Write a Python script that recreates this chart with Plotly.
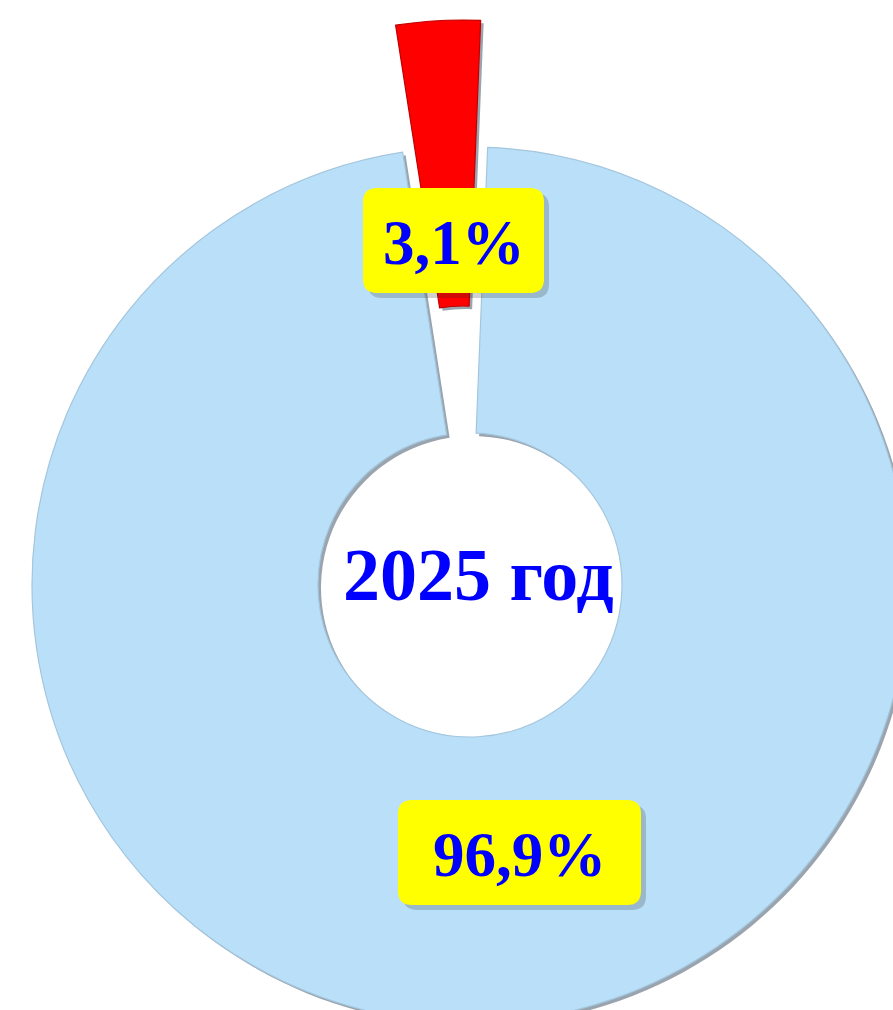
import plotly.graph_objects as go

# ---- data ----
categories = ["Доля 1", "Доля 2"]
shares = [3.1, 96.9]
center_title = "2025 год"

# ---- layout constants (pixels) ----
W, H = 960, 1100            # figure larger than the window; overflow is hidden
R = 438                     # outer radius
HOLE = 0.347
BLUE_C = (470, 585)         # centre of main ring
RED_C = (463, 458)          # centre of exploded slice
ROT = -8.85
SH = 3                      # shadow offset

BLUE = "#BAE0F9"
RED = "#FF0000"
CLEAR = "rgba(0,0,0,0)"
SHADOW = "rgba(70,90,110,0.55)"


def dom(c):
    cx, cy = c
    return dict(x=[(cx - R) / W, (cx + R) / W], y=[1 - (cy + R) / H, 1 - (cy - R) / H])


def px(x, y):
    return x / W, 1 - y / H


def ring(center, colors, lines):
    return go.Pie(
        labels=categories, values=shares, sort=False, direction="clockwise",
        rotation=ROT, hole=HOLE, domain=dom(center), textinfo="none", hoverinfo="skip",
        marker=dict(colors=colors, line=dict(color=lines, width=1.2)),
        showlegend=False,
    )


fig = go.Figure()
# shadows
fig.add_trace(ring((BLUE_C[0] + SH, BLUE_C[1] + SH), [CLEAR, SHADOW], [CLEAR, CLEAR]))
fig.add_trace(ring((RED_C[0] + SH, RED_C[1] + SH), [SHADOW, CLEAR], [CLEAR, CLEAR]))
# main ring (large share)
fig.add_trace(ring(BLUE_C, [CLEAR, BLUE], [CLEAR, "#A4C6DD"]))
# exploded small slice
fig.add_trace(ring(RED_C, [RED, CLEAR], ["#C00000", CLEAR]))

fmt = lambda v: f"{v:.1f}%".replace(".", ",")


def rrect(x0, y0, x1, y1, r):
    # rounded rectangle path in pixel coordinates -> paper coordinates
    def p(x, y):
        a, b = px(x, y)
        return f"{a:.5f},{b:.5f}"
    return (f"M {p(x0 + r, y0)} L {p(x1 - r, y0)} Q {p(x1, y0)} {p(x1, y0 + r)} "
            f"L {p(x1, y1 - r)} Q {p(x1, y1)} {p(x1 - r, y1)} L {p(x0 + r, y1)} "
            f"Q {p(x0, y1)} {p(x0, y1 - r)} L {p(x0, y0 + r)} Q {p(x0, y0)} {p(x0 + r, y0)} Z")


label_boxes = [((453.5, 240.5), 181, 105), ((519.5, 852.5), 243, 105)]
for v, ((bx, by), bw, bh) in zip(shares, label_boxes):
    x0, x1, y0, y1 = bx - bw / 2, bx + bw / 2, by - bh / 2, by + bh / 2
    fig.add_shape(type="path", xref="paper", yref="paper",
                  path=rrect(x0 + 5, y0 + 5, x1 + 5, y1 + 5, 14),
                  fillcolor="rgba(40,40,40,0.22)", line_width=0, layer="above")
    fig.add_shape(type="path", xref="paper", yref="paper",
                  path=rrect(x0, y0, x1, y1, 14),
                  fillcolor="#FFFF00", line_width=0, layer="above")
    x, y = px(bx, by + 2)
    fig.add_annotation(x=x, y=y, xref="paper", yref="paper", text=f"<b>{fmt(v)}</b>",
                       showarrow=False, xanchor="center", yanchor="middle",
                       font=dict(family="Liberation Serif", size=63, color="#0000FF"))

x, y = px(BLUE_C[0] + 8, BLUE_C[1] - 10)
fig.add_annotation(x=x, y=y, xref="paper", yref="paper", text=f"<b>{center_title}</b>",
                   showarrow=False, xanchor="center", yanchor="middle",
                   font=dict(family="Liberation Serif", size=74, color="#0000FF"))

fig.update_layout(width=W, height=H, margin=dict(l=0, r=0, t=0, b=0),
                  paper_bgcolor="white", plot_bgcolor="white")

fig.write_html("out.html", post_script=(
    "document.documentElement.style.overflow='hidden';"
    "document.body.style.overflow='hidden';document.body.style.margin='0';"))
